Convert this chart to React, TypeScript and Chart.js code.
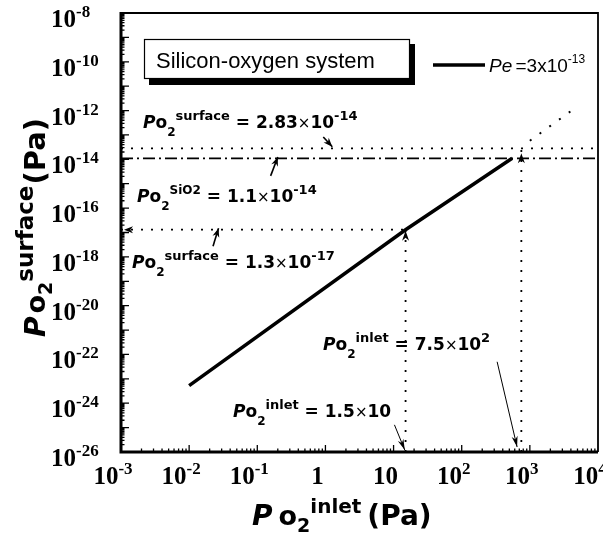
import { useEffect, useRef } from "react";
import { Chart, registerables } from "chart.js";

Chart.register(...registerables);

// Axis ranges (log scales)
const inletRange = [1e-3, 1e4];
const surfaceRange = [1e-26, 1e-8];

// Tick labels: base and exponent
const xTickValues = [1e-3, 1e-2, 1e-1, 1, 10, 100, 1000, 10000];
const xTickBase = ["10", "10", "10", "1", "10", "10", "10", "10"];
const xTickExp = ["-3", "-2", "-1", "", "", "2", "3", "4"];
const yTickValues = [1e-26, 1e-24, 1e-22, 1e-20, 1e-18, 1e-16, 1e-14, 1e-12, 1e-10, 1e-8];
const yTickExp = ["-26", "-24", "-22", "-20", "-18", "-16", "-14", "-12", "-10", "-8"];

// Surface O2 pressure vs inlet O2 pressure for Pe = 3x10^-13
const lineInlet = [0.01, 15, 550];
const lineSurface = [5.3e-24, 1.3e-17, 1.1e-14];
// Extrapolation beyond the SiO2 limit
const extInlet = [1000, 4100];
const extSurface = [5.8e-14, 1e-12];

// Reference levels
const surfaceHigh = 2.83e-14;
const surfaceSiO2 = 1.1e-14;
const surfaceLow = 1.3e-17;
const inletLow = 15;
const inletHigh = 750;

// Pointer arrows for the annotations: [x0, y0, x1, y1] in data units
const pointerHigh = [0.93, 8.3e-14, 1.26, 3.3e-14];
const pointerSiO2 = [0.157, 2.1e-15, 0.2, 1.25e-14];
const pointerLow = [0.0224, 2.75e-18, 0.027, 1.5e-17];
const pointerInletHigh = [331, 5e-23, 650, 1.6e-26];
const pointerInletLow = [10.3, 1.3e-25, 14.6, 1.2e-26];

type Seg = [string, string, number?, number?]; // text, font, dy, dx-before

const B = (s: number) => `bold ${s}px "DejaVu Sans"`;
const BI = (s: number) => `italic bold ${s}px "DejaVu Sans"`;
const R = (s: number) => `${s}px "DejaVu Sans"`;
const SERIF = (s: number) => `bold ${s}px "Liberation Serif"`;

function richWidth(ctx: CanvasRenderingContext2D, segs: Seg[]) {
  let w = 0;
  for (const s of segs) {
    ctx.font = s[1];
    w += (s[3] || 0) + ctx.measureText(s[0]).width;
  }
  return w;
}

function drawRich(ctx: CanvasRenderingContext2D, x: number, y: number, segs: Seg[]) {
  let cx = x;
  ctx.textBaseline = "alphabetic";
  ctx.textAlign = "left";
  for (const s of segs) {
    ctx.font = s[1];
    cx += s[3] || 0;
    ctx.fillText(s[0], cx, y + (s[2] || 0));
    cx += ctx.measureText(s[0]).width;
  }
}

function arrowHead(ctx: CanvasRenderingContext2D, x: number, y: number, angle: number, len: number, half: number) {
  ctx.save();
  ctx.translate(x, y);
  ctx.rotate(angle);
  ctx.beginPath();
  ctx.moveTo(0, 0);
  ctx.lineTo(-len, -half);
  ctx.lineTo(-len * 0.7, 0);
  ctx.lineTo(-len, half);
  ctx.closePath();
  ctx.fill();
  ctx.restore();
}

const overlay = {
  id: "overlay",
  afterDatasetsDraw(chart: any) {
    const ctx: CanvasRenderingContext2D = chart.ctx;
    const { left, right, top, bottom } = chart.chartArea;
    const xs = chart.scales.x;
    const ys = chart.scales.y;
    const px = (v: number) => xs.getPixelForValue(v);
    const py = (v: number) => ys.getPixelForValue(v);

    ctx.save();
    ctx.fillStyle = "#000";
    ctx.strokeStyle = "#000";

    // frame
    ctx.lineWidth = 1.8;
    ctx.beginPath();
    ctx.moveTo(left, top);
    ctx.lineTo(right, top);
    ctx.lineTo(right, bottom);
    ctx.stroke();
    ctx.lineWidth = 3;
    ctx.beginPath();
    ctx.moveTo(left, top - 1);
    ctx.lineTo(left, bottom);
    ctx.lineTo(right, bottom);
    ctx.stroke();

    // ticks (inward)
    ctx.lineWidth = 1.3;
    ctx.beginPath();
    for (let d = -26; d < -8; d++) {
      for (let m = 1; m <= 9; m++) {
        const y = py(m * Math.pow(10, d));
        const len = m === 1 ? 8 : 3.5;
        ctx.moveTo(left, y);
        ctx.lineTo(left + len, y);
      }
    }
    for (let d = -3; d < 4; d++) {
      for (let m = 1; m <= 9; m++) {
        const x = px(m * Math.pow(10, d));
        const len = m === 1 ? 7 : 3.5;
        ctx.moveTo(x, bottom);
        ctx.lineTo(x, bottom - len);
      }
    }
    ctx.stroke();

    // arrowheads on the reference lines
    arrowHead(ctx, left + 3, py(surfaceLow), Math.PI, 9, 3.5);
    arrowHead(ctx, px(inletLow), py(surfaceLow) + 1, -Math.PI / 2, 10, 3.5);
    arrowHead(ctx, px(inletHigh), py(surfaceHigh) + 5, -Math.PI / 2, 10, 3.5);

    // pointers
    const pointer = (p: number[], w: number, len: number, half: number) => {
      const x0 = px(p[0]), y0 = py(p[1]), x1 = px(p[2]), y1 = py(p[3]);
      ctx.lineWidth = w;
      ctx.beginPath();
      ctx.moveTo(x0, y0);
      ctx.lineTo(x1, y1);
      ctx.stroke();
      arrowHead(ctx, x1, y1, Math.atan2(y1 - y0, x1 - x0), len, half);
    };
    pointer(pointerHigh, 1.6, 9, 3.5);
    pointer(pointerSiO2, 1.6, 9, 3.5);
    pointer(pointerLow, 1.6, 9, 3.5);
    pointer(pointerInletHigh, 1, 11, 3);
    pointer(pointerInletLow, 1, 11, 3);

    // legend box with shadow
    ctx.fillRect(149, 44, 266, 41);
    ctx.fillStyle = "#fff";
    ctx.fillRect(144, 39, 266, 40);
    ctx.fillStyle = "#000";
    ctx.lineWidth = 1.2;
    ctx.strokeRect(144.5, 39.5, 265, 39);
    ctx.font = '22px "Liberation Sans"';
    ctx.textAlign = "left";
    ctx.fillText("Silicon-oxygen system", 156, 68);

    ctx.lineWidth = 3.5;
    ctx.beginPath();
    ctx.moveTo(433, 65);
    ctx.lineTo(485, 65);
    ctx.stroke();
    drawRich(ctx, 489, 72, [
      ["Pe", 'italic 19px "Liberation Sans"'],
      [" =3x10", '19px "Liberation Sans"', 0, -2],
      ["-13", '12px "Liberation Sans"', -9],
    ]);

    // annotations
    const X = R(15);
    drawRich(ctx, 143, 128, [
      ["P", BI(17)], ["o", B(17)], ["2", B(12), 8], ["surface", B(13), -8],
      [" = 2.83", B(17)], ["×", X], ["10", B(17)], ["-14", B(13), -8],
    ]);
    drawRich(ctx, 137, 202, [
      ["P", BI(17)], ["o", B(17)], ["2", B(12), 8], ["SiO2", B(12), -8],
      [" = 1.1", B(17)], ["×", X], ["10", B(17)], ["-14", B(13), -8],
    ]);
    drawRich(ctx, 132, 268, [
      ["P", BI(17)], ["o", B(17)], ["2", B(12), 8], ["surface", B(13), -8],
      [" = 1.3", B(17)], ["×", X], ["10", B(17)], ["-17", B(13), -8],
    ]);
    drawRich(ctx, 323, 350, [
      ["P", BI(17)], ["o", B(17)], ["2", B(12), 8], ["inlet", B(13), -8],
      [" = 7.5", B(17)], ["×", X], ["10", B(17)], ["2", B(13), -8],
    ]);
    drawRich(ctx, 233, 417, [
      ["P", BI(17)], ["o", B(17)], ["2", B(12), 8], ["inlet", B(13), -8],
      [" = 1.5", B(17)], ["×", X], ["10", B(17)],
    ]);

    // y tick labels
    yTickValues.forEach((v, i) => {
      drawRich(ctx, 51, py(v) + 14, [["10", SERIF(25)], [yTickExp[i], SERIF(17), -10]]);
    });
    // x tick labels
    xTickValues.forEach((v, i) => {
      const segs: Seg[] = [[xTickBase[i], SERIF(25)]];
      if (xTickExp[i]) segs.push([xTickExp[i], SERIF(17), -10]);
      const w = richWidth(ctx, segs);
      drawRich(ctx, px(v) - w / 2 - 8, 484, segs);
    });

    // axis titles
    drawRich(ctx, 252, 525, [
      ["P", BI(28)], ["o", B(27), 0, 6], ["2", B(19), 7], ["inlet", B(20), -12], ["(Pa)", B(28), 0, 6],
    ]);
    ctx.save();
    ctx.translate(45, 337);
    ctx.rotate(-Math.PI / 2);
    drawRich(ctx, 0, 0, [
      ["P", BI(28)], ["o", B(27), 0, 3], ["2", B(19), 7], ["surface", B(23), -12], ["(Pa)", B(29), 0, 1],
    ]);
    ctx.restore();

    ctx.restore();
  },
};

function pts(xv: number[], yv: number[]) {
  return xv.map((x, i) => ({ x, y: yv[i] }));
}

export default function App() {
  const ref = useRef<HTMLCanvasElement>(null);

  useEffect(() => {
    if (!ref.current) return;
    const base = { showLine: true, pointRadius: 0, borderColor: "#000", backgroundColor: "#000", fill: false, tension: 0 };
    const chart = new Chart(ref.current, {
      type: "scatter",
      data: {
        datasets: [
          { ...base, data: pts(lineInlet, lineSurface), borderWidth: 3.5 },
          { ...base, data: pts(extInlet, extSurface), borderWidth: 2, borderDash: [2, 10] },
          { ...base, data: pts(inletRange, [surfaceHigh, surfaceHigh]), borderWidth: 1.8, borderDash: [2, 8] },
          { ...base, data: pts(inletRange, [surfaceSiO2, surfaceSiO2]), borderWidth: 1.8, borderDash: [12, 4, 2, 4] },
          { ...base, data: pts([inletRange[0], inletLow], [surfaceLow, surfaceLow]), borderWidth: 1.8, borderDash: [2, 8] },
          { ...base, data: pts([inletLow, inletLow], [surfaceRange[0], surfaceLow]), borderWidth: 1.8, borderDash: [2, 8] },
          { ...base, data: pts([inletHigh, inletHigh], [surfaceRange[0], surfaceHigh]), borderWidth: 1.8, borderDash: [2, 8] },
        ] as any,
      },
      options: {
        responsive: false,
        animation: false,
        layout: { padding: { left: 121, right: 5, top: 13, bottom: 85 } },
        plugins: { legend: { display: false }, tooltip: { enabled: false } },
        scales: {
          x: { type: "logarithmic", min: inletRange[0], max: inletRange[1], display: false },
          y: { type: "logarithmic", min: surfaceRange[0], max: surfaceRange[1], display: false },
        },
      },
      plugins: [overlay],
    });
    return () => chart.destroy();
  }, []);

  return (
    <div style={{ position: "absolute", left: 0, top: 0, width: 603, height: 537, background: "#fff" }}>
      <canvas ref={ref} width={603} height={537} />
    </div>
  );
}
